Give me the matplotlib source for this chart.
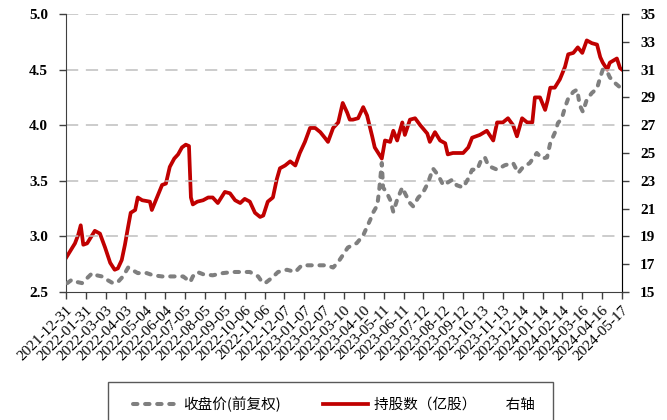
import matplotlib
matplotlib.use("Agg")
import matplotlib.pyplot as plt
from matplotlib.lines import Line2D
from matplotlib.patches import Rectangle
import pandas as pd

# 收盘价(前复权), left axis
price_dates = [
    "2022-01-02", "2022-01-09", "2022-01-17", "2022-01-25", "2022-02-10", "2022-02-17",
    "2022-02-25", "2022-03-05", "2022-03-14", "2022-03-22", "2022-03-30", "2022-04-07",
    "2022-04-13", "2022-04-22", "2022-05-06", "2022-05-16", "2022-05-30", "2022-06-16",
    "2022-07-02", "2022-07-13", "2022-07-17", "2022-07-24", "2022-08-02", "2022-08-17",
    "2022-09-02", "2022-09-18", "2022-10-03", "2022-10-14", "2022-10-27", "2022-11-02",
    "2022-11-07", "2022-11-18", "2022-11-27", "2022-12-11", "2022-12-24", "2023-01-03",
    "2023-01-16", "2023-01-28", "2023-02-11", "2023-02-21", "2023-03-01", "2023-03-08",
    "2023-03-16", "2023-03-30", "2023-04-09", "2023-04-20", "2023-04-24", "2023-05-01",
    "2023-05-04", "2023-05-08", "2023-05-10", "2023-05-16", "2023-05-21", "2023-05-26",
    "2023-06-01", "2023-06-09", "2023-06-13", "2023-06-21", "2023-06-26", "2023-07-04",
    "2023-07-11", "2023-07-19", "2023-07-27", "2023-08-04", "2023-08-12", "2023-08-26",
    "2023-09-02", "2023-09-12", "2023-09-20", "2023-09-26", "2023-10-04", "2023-10-11",
    "2023-10-16", "2023-10-21", "2023-10-27", "2023-11-04", "2023-11-16", "2023-11-29",
    "2023-12-07", "2023-12-14", "2023-12-25", "2024-01-05", "2024-01-13", "2024-01-21",
    "2024-01-26", "2024-02-02", "2024-02-07", "2024-02-13", "2024-02-18", "2024-02-23",
    "2024-03-02", "2024-03-08", "2024-03-12", "2024-03-17", "2024-03-23", "2024-03-31",
    "2024-04-08", "2024-04-13", "2024-04-17", "2024-04-24", "2024-04-28", "2024-05-06",
    "2024-05-14", "2024-05-17",
]
price = [
    2.58, 2.61, 2.59, 2.58, 2.67, 2.65,
    2.64, 2.61, 2.58, 2.59, 2.64, 2.72,
    2.70, 2.67, 2.67, 2.65, 2.64, 2.64,
    2.64, 2.59, 2.64, 2.68, 2.66, 2.65,
    2.67, 2.68, 2.68, 2.68, 2.64, 2.59,
    2.58, 2.63, 2.68, 2.70, 2.68, 2.74,
    2.74, 2.74, 2.74, 2.72, 2.77, 2.83,
    2.90, 2.94, 3.01, 3.15, 3.21, 3.28,
    3.42, 3.66, 3.44, 3.39, 3.33, 3.22,
    3.33, 3.44, 3.39, 3.30, 3.27, 3.35,
    3.39, 3.48, 3.61, 3.55, 3.46, 3.51,
    3.46, 3.44, 3.52, 3.60, 3.60, 3.70,
    3.71, 3.64, 3.62, 3.60, 3.64, 3.66,
    3.57, 3.62, 3.66, 3.75, 3.70, 3.71,
    3.84, 3.93, 4.02, 4.06, 4.16, 4.24,
    4.30, 4.32, 4.18, 4.12, 4.23, 4.29,
    4.33, 4.43, 4.50, 4.48, 4.43, 4.38,
    4.34, 4.34,
]

# 持股数（亿股）, right axis
hold_dates = [
    "2021-12-31", "2022-01-06", "2022-01-14", "2022-01-19", "2022-01-23", "2022-01-27",
    "2022-02-02", "2022-02-14", "2022-02-22", "2022-03-02", "2022-03-10", "2022-03-17",
    "2022-03-22", "2022-03-28", "2022-04-02", "2022-04-07", "2022-04-11", "2022-04-18",
    "2022-04-22", "2022-04-29", "2022-05-11", "2022-05-14", "2022-05-22", "2022-05-30",
    "2022-06-05", "2022-06-11", "2022-06-18", "2022-06-24", "2022-06-30", "2022-07-06",
    "2022-07-11", "2022-07-14", "2022-07-17", "2022-07-24", "2022-08-02", "2022-08-10",
    "2022-08-17", "2022-08-25", "2022-09-05", "2022-09-13", "2022-09-21", "2022-09-29",
    "2022-10-06", "2022-10-14", "2022-10-22", "2022-10-30", "2022-11-04", "2022-11-11",
    "2022-11-19", "2022-11-25", "2022-11-30", "2022-12-08", "2022-12-16", "2022-12-24",
    "2022-12-31", "2023-01-08", "2023-01-16", "2023-01-24", "2023-02-01", "2023-02-08",
    "2023-02-13", "2023-02-21", "2023-03-01", "2023-03-08", "2023-03-15", "2023-03-19",
    "2023-03-24", "2023-04-01", "2023-04-09", "2023-04-15", "2023-04-23", "2023-04-27",
    "2023-05-08", "2023-05-13", "2023-05-21", "2023-05-26", "2023-06-01", "2023-06-09",
    "2023-06-13", "2023-06-21", "2023-06-29", "2023-07-07", "2023-07-18", "2023-07-22",
    "2023-07-30", "2023-08-07", "2023-08-15", "2023-08-19", "2023-08-27", "2023-09-12",
    "2023-09-20", "2023-09-26", "2023-10-08", "2023-10-19", "2023-10-29", "2023-11-04",
    "2023-11-13", "2023-11-21", "2023-11-29", "2023-12-05", "2023-12-13", "2023-12-21",
    "2023-12-29", "2024-01-02", "2024-01-10", "2024-01-18", "2024-01-22", "2024-01-26",
    "2024-02-02", "2024-02-10", "2024-02-18", "2024-02-23", "2024-03-02", "2024-03-09",
    "2024-03-16", "2024-03-23", "2024-03-31", "2024-04-08", "2024-04-13", "2024-04-17",
    "2024-04-24", "2024-04-28", "2024-05-09", "2024-05-14", "2024-05-17",
]
holding = [
    17.45, 17.9, 18.5, 19.1, 19.8, 18.4,
    18.5, 19.4, 19.2, 18.2, 17.1, 16.6,
    16.7, 17.3, 18.4, 19.7, 20.7, 20.9,
    21.8, 21.6, 21.5, 20.9, 21.8, 22.7,
    22.8, 24.0, 24.6, 24.9, 25.4, 25.6,
    25.5, 21.8, 21.3, 21.5, 21.6, 21.8,
    21.8, 21.4, 22.2, 22.1, 21.6, 21.4,
    21.7, 21.5, 20.7, 20.4, 20.5, 21.5,
    21.8, 23.1, 23.9, 24.1, 24.4, 24.1,
    25.0, 25.8, 26.8, 26.8, 26.5, 26.1,
    25.8, 26.8, 27.2, 28.6, 27.9, 27.4,
    27.4, 27.5, 28.3, 27.7, 26.2, 25.4,
    24.6, 25.9, 25.8, 26.6, 25.9, 27.2,
    26.3, 27.4, 27.5, 27.0, 26.4, 25.8,
    26.5, 25.9, 25.7, 24.9, 25.0, 25.0,
    25.4, 26.1, 26.3, 26.6, 25.9, 27.2,
    27.2, 27.5, 27.0, 26.2, 27.5, 27.2,
    27.2, 29.0, 29.0, 28.1, 28.8, 29.7,
    29.7, 30.3, 31.2, 32.1, 32.2, 32.6,
    32.2, 33.1, 32.9, 32.8, 31.9, 31.5,
    31.0, 31.5, 31.8, 31.1, 31.0,
]

tick_labels = [
    "2021-12-31", "2022-01-31", "2022-03-03", "2022-04-03", "2022-05-04", "2022-06-04",
    "2022-07-05", "2022-08-05", "2022-09-05", "2022-10-06", "2022-11-06", "2022-12-07",
    "2023-01-07", "2023-02-07", "2023-03-10", "2023-04-10", "2023-05-11", "2023-06-11",
    "2023-07-12", "2023-08-12", "2023-09-12", "2023-10-13", "2023-11-13", "2023-12-14",
    "2024-01-14", "2024-02-14", "2024-03-16", "2024-04-16", "2024-05-17",
]
left_ticks = [2.5, 3.0, 3.5, 4.0, 4.5, 5.0]
right_ticks = [15, 17, 19, 21, 23, 25, 27, 29, 31, 33, 35]

RED = "#C00000"
GREY = "#7F7F7F"
SERIF = "Liberation Serif"
plt.rcParams["font.family"] = ["Noto Sans CJK SC", "DejaVu Sans"]

fig = plt.figure(figsize=(6.67, 4.2), dpi=100)
ax = fig.add_axes([66 / 667, 1 - 292 / 420, 556 / 667, 278 / 420])
ax2 = ax.twinx()

pd_price = pd.to_datetime(price_dates)
pd_hold = pd.to_datetime(hold_dates)
pd_ticks = pd.to_datetime(tick_labels)

ax.plot(pd_price, price, color=GREY, lw=2.9, linestyle=(0, (1.1, 1.9)),
        dash_capstyle="round", zorder=3)
ax2.plot(pd_hold, holding, color=RED, lw=2.7, solid_joinstyle="round", zorder=3)

ax.set_zorder(ax2.get_zorder() + 1)
ax.patch.set_visible(False)

ax.set_xlim(pd_ticks[0], pd_ticks[-1])
ax.set_ylim(2.5, 5.0)
ax2.set_ylim(15, 35)

ax.set_yticks(left_ticks)
ax.set_yticklabels([f"{v:.1f}" for v in left_ticks], family=SERIF,
                   fontweight="bold", fontsize=11)
ax2.set_yticks(right_ticks)
ax2.set_yticklabels([str(v) for v in right_ticks], family=SERIF,
                    fontweight="bold", fontsize=11)

ax.set_xticks(pd_ticks)
ax.set_xticklabels(tick_labels, rotation=45, ha="right", rotation_mode="anchor",
                   family=SERIF, fontsize=11)

for y in left_ticks[1:]:
    ax.axhline(y, color="#BFBFBF", lw=1.1, linestyle=(0, (8, 5)), zorder=1)

for a in (ax, ax2):
    a.spines["top"].set_visible(False)
    a.tick_params(length=5, width=1, color="#404040", pad=3)
ax.spines["left"].set_color("#404040")
ax.spines["bottom"].set_color("#404040")
ax2.spines["right"].set_color("#808080")
ax2.spines["left"].set_visible(False)
ax2.spines["bottom"].set_visible(False)
ax.tick_params(axis="y", pad=8)
ax2.tick_params(axis="y", pad=8)

# legend box runs past the bottom edge in the original
fig.patches.append(Rectangle((108 / 667, -0.1), 445 / 667, 0.1 + 38 / 420,
                             transform=fig.transFigure, fill=False,
                             edgecolor="#595959", lw=1))
handles = [
    Line2D([], [], color=GREY, lw=2.9, linestyle=(0, (1.1, 1.9)), dash_capstyle="round"),
    Line2D([], [], color=RED, lw=2.7),
]
fig.legend(handles, ["收盘价(前复权)", "持股数（亿股）　　右轴"], loc="center left",
           bbox_to_anchor=(127 / 667, 1 - 404 / 420), ncol=2, frameon=False,
           borderaxespad=0, handlelength=3.1, handletextpad=0.35, columnspacing=2.9,
           prop={"size": 10.5})

fig.savefig("out.png", dpi=100)
